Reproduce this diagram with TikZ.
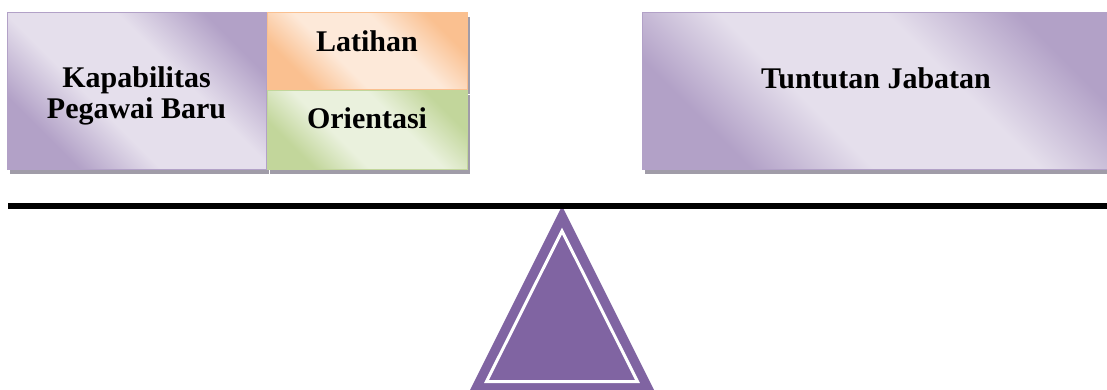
\documentclass[tikz,border=0pt]{standalone}
\usepackage{fontspec}
\setmainfont{Liberation Serif}
\usepackage{tikz}
\usetikzlibrary{shadows}

\definecolor{lavdark}{RGB}{178,161,199}
\definecolor{lavlight}{RGB}{229,223,236}
\definecolor{orangedark}{RGB}{250,192,144}
\definecolor{orangelight}{RGB}{253,233,217}
\definecolor{greendark}{RGB}{194,214,155}
\definecolor{greenlight}{RGB}{234,241,221}
\definecolor{shadowgray}{RGB}{160,156,168}
\definecolor{fulcrumpurple}{RGB}{128,100,162}

% dark -- light -- dark band across each panel
\pgfdeclarehorizontalshading{lavshading}{100bp}{color(0bp)=(lavdark); color(27bp)=(lavdark);
  color(41bp)=(lavlight); color(60bp)=(lavlight); color(75bp)=(lavdark); color(100bp)=(lavdark)}
\pgfdeclarehorizontalshading{orangeshading}{100bp}{color(0bp)=(orangedark); color(27bp)=(orangedark);
  color(41bp)=(orangelight); color(60bp)=(orangelight); color(75bp)=(orangedark); color(100bp)=(orangedark)}
\pgfdeclarehorizontalshading{greenshading}{100bp}{color(0bp)=(greendark); color(27bp)=(greendark);
  color(41bp)=(greenlight); color(60bp)=(greenlight); color(75bp)=(greendark); color(100bp)=(greendark)}

\tikzset{
  panel/.style={draw=#1dark, line width=1pt, shading=#1shading, shading angle=45,
    inner sep=0pt, general shadow={fill=shadowgray, shadow xshift=3pt, shadow yshift=-4pt}},
  panel text/.style={font=\fontsize{30}{31}\selectfont\bfseries, align=center, inner sep=0pt},
  beam/.style={line width=6pt, black},
  fulcrum/.style={fill=fulcrumpurple}
}

\begin{document}
\begin{tikzpicture}[x=1pt, y=-1pt]

  \useasboundingbox (0,0) rectangle (1107,390);

  % Left pan: capability of the new employee, plus training and orientation
  \node[panel=lav, minimum width=259pt, minimum height=157pt,
        label={[panel text, yshift=-4.5pt]center:Kapabilitas\\Pegawai Baru}]
        (kapabilitas) at (136.5,91.5) {};
  \node[panel=orange, minimum width=200pt, minimum height=77pt,
        label={[panel text, yshift=10pt]center:Latihan}]
        (latihan) at (367,51.5) {};
  \node[panel=green, minimum width=200pt, minimum height=79pt,
        label={[panel text, yshift=12pt]center:Orientasi}]
        (orientasi) at (367,130.5) {};

  % Right pan
  \node[panel=lav, minimum width=468pt, minimum height=157pt,
        label={[panel text, yshift=13pt]center:Tuntutan Jabatan}]
        (jabatan) at (876,91.5) {};

  % Fulcrum
  \coordinate (Top) at (562,206);
  \coordinate (BaseLeft) at (470,390);
  \coordinate (BaseRight) at (654,390);
  \fill[fulcrum] (Top) -- (BaseLeft) -- (BaseRight) -- cycle;
  \draw[white, line width=3pt] (562,231) -- (486.5,381.5) -- (637.5,381.5) -- cycle;

  % Beam
  \coordinate (BeamStart) at (8,206);
  \coordinate (BeamEnd) at (1107,206);
  \draw[beam] (BeamStart) -- (BeamEnd);

\end{tikzpicture}
\end{document}
